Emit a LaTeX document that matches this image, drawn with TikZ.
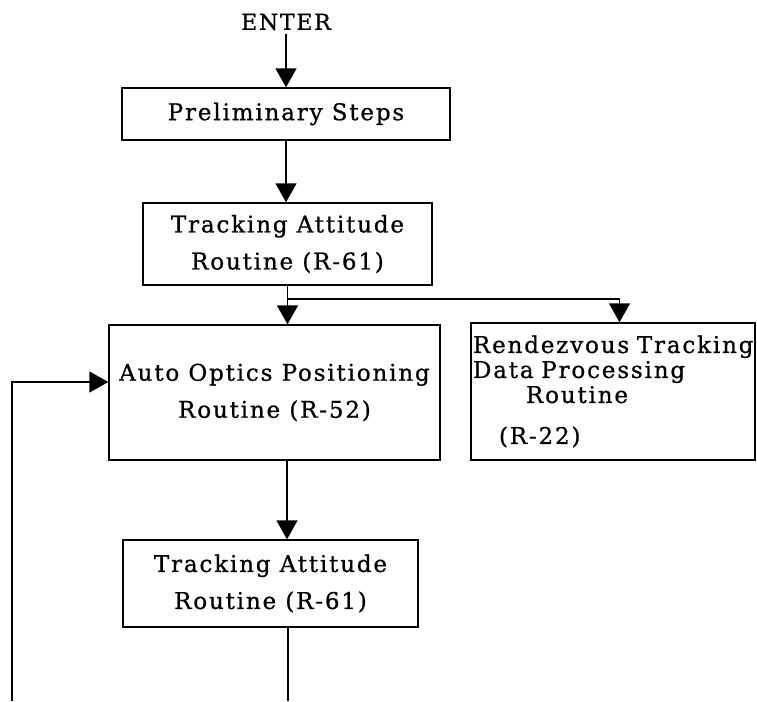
\documentclass[tikz,border=0pt]{standalone}
\usepackage{fontspec}
\setmainfont[LetterSpace=8,FakeBold=0.8]{DejaVu Serif}
\usetikzlibrary{arrows.meta,calc}

\tikzset{
  box/.style={draw,line width=1.4pt,rectangle,inner sep=0pt,align=center,
    font=\fontsize{23}{37}\selectfont},
  flow/.style={line width=1.6pt,-{Triangle[width=21pt,length=19pt]}},
  plain/.style={line width=1.4pt}
}

\begin{document}
\begin{tikzpicture}[x=1pt,y=-1pt]
\path[use as bounding box] (0,0) rectangle (757,701);

\node[font=\fontsize{22}{20}\selectfont] (enter) at (286,22) {ENTER};
\node[box,minimum width=328pt,minimum height=52pt] (prelim) at (286,114) {Preliminary Steps};
\node[box,minimum width=289pt,minimum height=82pt] (track1) at (287.5,244) {Tracking Attitude\\Routine (R-61)};
\node[box,minimum width=331pt,minimum height=135pt] (auto) at (274.5,392.5) {Auto Optics Positioning\\Routine (R-52)};
\node[box,minimum width=284pt,minimum height=137pt,align=left,font=\fontsize{23}{25}\selectfont,text width=280pt]
  (rdv) at (613,391.5) {Rendezvous Tracking\\Data Processing\\\hspace*{53pt}Routine\\[16pt]\hspace*{26pt}(R-22)};
\node[box,minimum width=295pt,minimum height=87pt] (track2) at (270.5,583.5) {Tracking Attitude\\Routine (R-61)};

\coordinate (fork) at (287,299);
\coordinate (tail) at (288,701);
\coordinate (back) at (12,701);

\draw[flow] (enter.south) -- (prelim.north);
\draw[flow] (prelim.south) -- (prelim.south |- track1.north);
\draw[flow] (track1.south) -- (track1.south |- auto.north);
\draw[flow,line width=1.4pt] (fork) -| ([xshift=6.5pt]rdv.north);
\draw[flow,line width=1.4pt] ([xshift=12.5pt]auto.south) -- ([xshift=16.5pt]track2.north);
\draw[plain] ([xshift=17.5pt]track2.south) -- (tail);
\draw[flow,line width=1.4pt] (back) |- ([yshift=10.5pt]auto.west);
\end{tikzpicture}
\end{document}
